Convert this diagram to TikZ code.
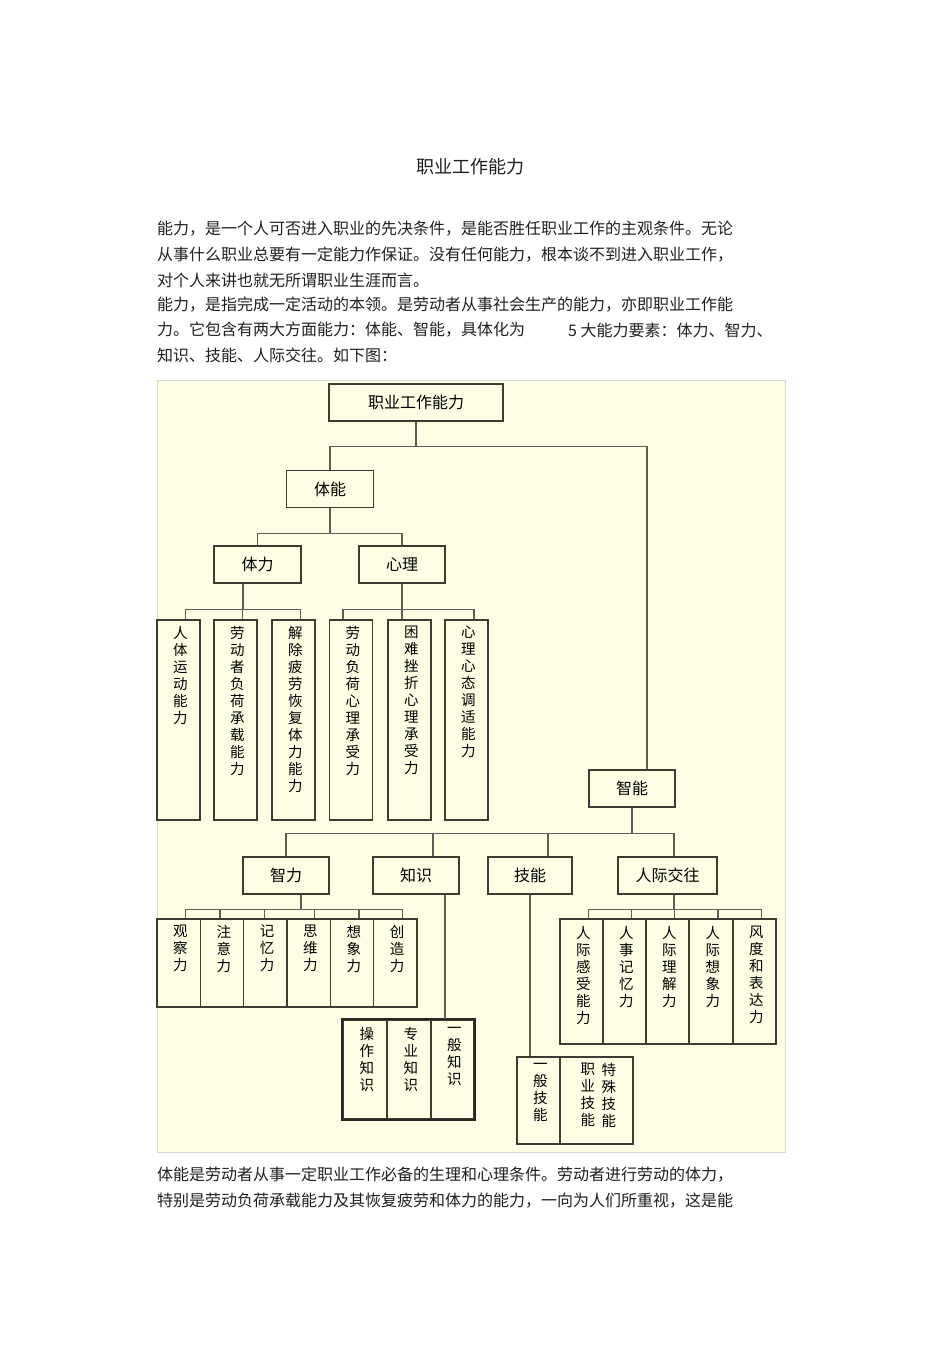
\documentclass[tikz,border=0pt]{standalone}
\usepackage{fontspec}
\setmainfont{Noto Sans CJK SC}
\usetikzlibrary{positioning, calc}
\definecolor{panelbg}{HTML}{FEFEE4}
\definecolor{panelrule}{HTML}{D9D9CF}
\definecolor{boxrule}{HTML}{3C3C34}
\definecolor{linkrule}{HTML}{5E5E56}

% one glyph per line, for the tall boxes
\def\vt#1#2\relax{#1\ifx\relax#2\relax\else\\\vt#2\relax\fi}
\newcommand\vcol[2]{\parbox[c][#1][t]{1.1em}{\centering\fontsize{14.5}{17}\selectfont\vt#2\relax}}

\begin{document}
\begin{tikzpicture}[x=1pt, y=-1pt,
    hbox/.style={draw=boxrule, line width=1.1pt, inner sep=0pt, minimum height=37pt, font=\fontsize{16}{19}\selectfont},
    vbox/.style={draw=boxrule, line width=1.1pt, inner sep=0pt, minimum width=43pt},
    link/.style={draw=linkrule, line width=1.1pt},
    para/.style={anchor=west, inner sep=0pt, text=black!88, font=\fontsize{16}{20}\selectfont}]
    \useasboundingbox (0,0) rectangle (950,1345);

    % text above the chart
    \node[inner sep=0pt, text=black!88, font=\fontsize{18}{22}\selectfont] (title) at (470,167) {职业工作能力};
    \node[para] (t1) at (157,229) {能力，是一个人可否进入职业的先决条件，是能否胜任职业工作的主观条件。无论};
    \node[para] (t2) at (157,255) {从事什么职业总要有一定能力作保证。没有任何能力，根本谈不到进入职业工作，};
    \node[para] (t3) at (157,280) {对个人来讲也就无所谓职业生涯而言。};
    \node[para] (t4) at (157,305) {能力，是指完成一定活动的本领。是劳动者从事社会生产的能力，亦即职业工作能};
    \node[para] (t5) at (157,330) {力。它包含有两大方面能力：体能、智能，具体化为};
    \node[para] (t5b) at (568,330) {5 大能力要素：体力、智力、};
    \node[para] (t6) at (157,355) {知识、技能、人际交往。如下图：};

    \draw[panelrule, fill=panelbg] (157,380) rectangle (785,1152);

    % upper levels
    \node[hbox, minimum width=174pt] (root) at (416,402.5) {职业工作能力};
    \node[hbox, minimum width=87pt] (tineng) at (330,489) {体能};
    \node[hbox, minimum width=87pt] (tili) at (257.5,564.5) {体力};
    \node[hbox, minimum width=86pt] (xinli) at (402,564.5) {心理};
    \node[hbox, minimum width=86pt] (zhineng) at (632,788.5) {智能};
    \node[hbox, minimum width=86pt] (zhili) at (286,875.5) {智力};
    \node[hbox, minimum width=86pt] (zhishi) at (416,875.5) {知识};
    \node[hbox, minimum width=84pt] (jineng) at (530,875.5) {技能};
    \node[hbox, minimum width=99pt] (jiaowang) at (667.5,875.5) {人际交往};

    % 体力 and 心理
    \node[vbox, minimum height=200pt] (a1) at (178.5,720) {\vcol{188pt}{人体运动能力}};
    \node[vbox, minimum height=200pt] (a2) at (235.5,720) {\vcol{188pt}{劳动者负荷承载能力}};
    \node[vbox, minimum height=200pt] (a3) at (293.5,720) {\vcol{188pt}{解除疲劳恢复体力能力}};
    \node[vbox, minimum height=200pt] (a4) at (351,720) {\vcol{188pt}{劳动负荷心理承受力}};
    \node[vbox, minimum height=200pt] (a5) at (409.5,720) {\vcol{188pt}{困难挫折心理承受力}};
    \node[vbox, minimum height=200pt] (a6) at (466.5,720) {\vcol{188pt}{心理心态调适能力}};

    % 智力
    \node[vbox, minimum height=88pt, minimum width=43.4pt] (b1) at (178.7,963) {\vcol{76pt}{观察力}};
    \node[vbox, minimum height=88pt, minimum width=43.4pt] (b2) at (222,963) {\vcol{76pt}{注意力}};
    \node[vbox, minimum height=88pt, minimum width=43.4pt] (b3) at (265.3,963) {\vcol{76pt}{记忆力}};
    \node[vbox, minimum height=88pt, minimum width=43.4pt] (b4) at (308.7,963) {\vcol{76pt}{思维力}};
    \node[vbox, minimum height=88pt, minimum width=43.4pt] (b5) at (352,963) {\vcol{76pt}{想象力}};
    \node[vbox, minimum height=88pt, minimum width=43.4pt] (b6) at (395.3,963) {\vcol{76pt}{创造力}};

    % 知识
    \node[vbox, minimum height=99pt, minimum width=44pt] (k1) at (365,1069.5) {\vcol{85pt}{操作知识}};
    \node[vbox, minimum height=99pt, minimum width=44pt] (k2) at (409,1069.5) {\vcol{85pt}{专业知识}};
    \node[vbox, minimum height=99pt] (k3) at (452.5,1069.5) {\vcol{85pt}{一般知识}};
    \draw[line width=2pt, black!85] (k1.north west) rectangle (k3.south east);

    % 技能
    \node[vbox, minimum height=87pt] (s1) at (538.5,1100.5) {\vcol{75pt}{一般技能}};
    \node[vbox, minimum height=87pt, minimum width=73pt] (s2) at (596.5,1100.5) {\vcol{75pt}{职业技能}\hspace{10pt}\vcol{75pt}{特殊技能}};

    % 人际交往
    \node[vbox, minimum height=125pt] (p1) at (581.5,981.5) {\vcol{111pt}{人际感受能力}};
    \node[vbox, minimum height=125pt] (p2) at (624.5,981.5) {\vcol{111pt}{人事记忆力}};
    \node[vbox, minimum height=125pt] (p3) at (667.5,981.5) {\vcol{111pt}{人际理解力}};
    \node[vbox, minimum height=125pt] (p4) at (711,981.5) {\vcol{111pt}{人际想象力}};
    \node[vbox, minimum height=125pt] (p5) at (754.5,981.5) {\vcol{111pt}{风度和表达力}};

    % connectors
    \draw[link] (root.south) -- ++(0,25) -| (tineng.north);
    \draw[link] (root.south) -- ++(0,25) -| ([xshift=15pt]zhineng.north);
    \foreach \kid in {tili, xinli}
        \draw[link] (tineng.south) -- ++(0,25.5) -| (\kid.north);
    \foreach \kid in {a1, a2, a3}
        \draw[link] ([xshift=-14.5pt]tili.south) -- ++(0,26) -| ([xshift=7pt]\kid.north);
    \foreach \kid/\dx in {a4/-8, a5/-7.5, a6/7.5}
        \draw[link] (xinli.south) -- ++(0,26) -| ([xshift=\dx pt]\kid.north);
    \foreach \kid/\dx in {zhili/0, zhishi/17, jineng/18, jiaowang/6.5}
        \draw[link] (zhineng.south) -- ++(0,26) -| ([xshift=\dx pt]\kid.north);
    \foreach \kid/\dx in {b1/7, b2/-2, b3/-1, b4/6, b5/7, b6/7}
        \draw[link] ([xshift=15pt]zhili.south) -- ++(0,15) -| ([xshift=\dx pt]\kid.north);
    \draw[link] ([xshift=29pt]zhishi.south) -- ([xshift=29pt]zhishi.south |- k3.north);
    \draw[link] (jineng.south) -- (jineng.south |- s1.north);
    \foreach \i in {1,...,5}
        \draw[link] ([xshift=6.5pt]jiaowang.south) -- ++(0,15) -| ([xshift=7pt]p\i.north);

    % text below the chart
    \node[para] (u1) at (157,1175) {体能是劳动者从事一定职业工作必备的生理和心理条件。劳动者进行劳动的体力，};
    \node[para] (u2) at (157,1201) {特别是劳动负荷承载能力及其恢复疲劳和体力的能力，一向为人们所重视，这是能};
\end{tikzpicture}
\end{document}
